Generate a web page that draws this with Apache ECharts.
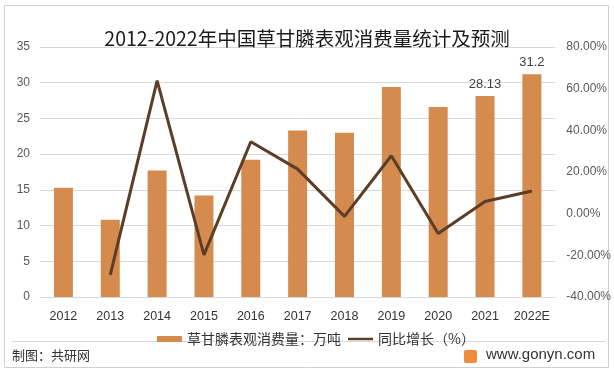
<!DOCTYPE html>
<html><head><meta charset="utf-8">
<script src="https://cdn.jsdelivr.net/npm/echarts@6/dist/echarts.min.js"></script>
<style>html,body{margin:0;padding:0;background:#fff}#c{width:614px;height:373px}</style>
</head><body><div id="c"></div>
<script>
const categories = ['2012','2013','2014','2015','2016','2017','2018','2019','2020','2021','2022E'];
const consumption = [15.3,10.8,17.7,14.2,19.2,23.3,23.0,29.4,26.6,28.13,31.2];
const growth = [null,-29.4,63.9,-19.8,34.5,21.4,-1.3,27.8,-9.5,5.8,10.9];
const leftTicks = {min:0,max:35,interval:5};
const rightTicks = {min:-40,max:80,interval:20};
const labeledIdx = [9,10];

const chart = echarts.init(document.getElementById('c'));
const font = "'Liberation Sans','Noto Sans CJK SC',sans-serif";
chart.setOption({
  backgroundColor:'#fff',
  animation:false,
  title:{text:'2012-2022年中国草甘膦表观消费量统计及预测',left:'center',top:24,
    textStyle:{fontFamily:"'Noto Sans CJK SC',sans-serif",fontSize:19.5,fontWeight:'normal',color:'#1a1a1a'}},
  grid:{left:40,right:58,top:47,bottom:76},
  legend:{left:152,top:327,itemWidth:25,itemHeight:6,itemGap:7,
    textStyle:{fontFamily:"'Noto Sans CJK SC',sans-serif",fontSize:14,color:'#333'},
    data:[{name:'草甘膦表观消费量：万吨',icon:'rect'},
          {name:'同比增长（%）',icon:'path://M0,0H30V3H0Z'}]},
  xAxis:{type:'category',data:categories,
    axisLine:{lineStyle:{color:'#d9d9d9'}},axisTick:{show:false},
    axisLabel:{interval:0,color:'#333',fontSize:12.5,margin:13,fontFamily:font}},
  yAxis:[
    {type:'value',min:leftTicks.min,max:leftTicks.max,interval:leftTicks.interval,
     axisLine:{show:false},axisTick:{show:false},
     splitLine:{lineStyle:{color:'#d9d9d9'}},
     axisLabel:{color:'#595959',fontSize:12,margin:10,fontFamily:font}},
    {type:'value',min:rightTicks.min,max:rightTicks.max,interval:rightTicks.interval,
     axisLine:{show:false},axisTick:{show:false},splitLine:{show:false},
     axisLabel:{color:'#595959',fontSize:12,margin:11,fontFamily:font,
       formatter:v=>v.toFixed(2)+'%'}}
  ],
  series:[
    {name:'草甘膦表观消费量：万吨',type:'bar',barWidth:19,
     itemStyle:{color:'#D58B4E'},
     data:consumption.map((v,i)=>labeledIdx.includes(i)?
       {value:v,label:{show:true,position:'top',distance:5,color:'#404040',fontSize:13,fontFamily:font}}:v)},
    {name:'同比增长（%）',type:'line',yAxisIndex:1,data:growth,
     symbol:'none',lineStyle:{color:'#5C3D26',width:3},itemStyle:{color:'#5C3D26'}}
  ],
  graphic:[
    {type:'rect',shape:{x:4.5,y:5.5,width:604,height:362},style:{fill:'none',stroke:'#d0d0d0',lineWidth:1},silent:true,z:-1},
    {type:'line',shape:{x1:12,y1:341.5,x2:605,y2:341.5},style:{stroke:'#d9d9d9',lineWidth:1}},
    {type:'text',left:12,top:349,style:{text:'制图：共研网',fontFamily:"'Noto Sans CJK SC',sans-serif",fontSize:13,fill:'#333'}},
    {type:'rect',shape:{x:464,y:350,width:13,height:13,r:2},style:{fill:'#F08A3C'}},
    {type:'text',left:486,top:347,style:{text:'www.gonyn.com',fontFamily:font,fontSize:15,fill:'#333'}}
  ]
});
</script></body></html>
